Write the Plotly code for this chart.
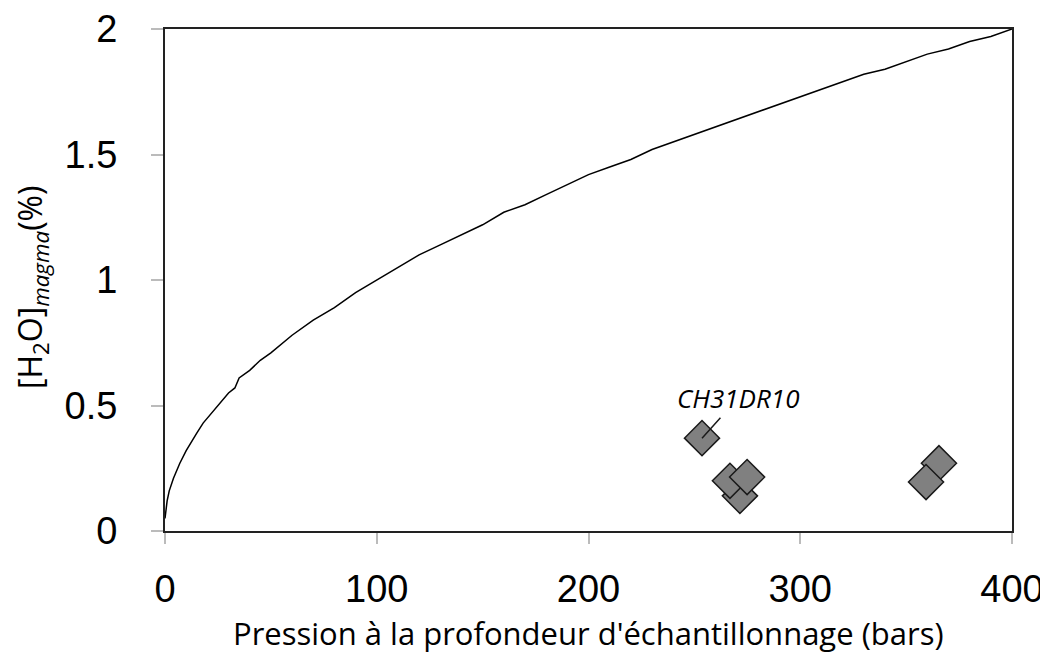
import plotly.graph_objects as go

# solubility curve
pressure = [0, 1, 2, 3, 4, 5, 7, 10, 12, 15, 18, 20, 25, 30, 33, 35, 40, 45, 50,
            60, 70, 80, 90, 100, 110, 120, 130, 140, 150, 160, 170, 180, 190, 200,
            210, 220, 230, 240, 250, 260, 270, 280, 290, 300, 310, 320, 330, 340,
            350, 360, 370, 380, 390, 400]
h2o_curve = [0.05, 0.12, 0.16, 0.19, 0.21, 0.23, 0.27, 0.32, 0.35, 0.39, 0.43, 0.45,
             0.50, 0.55, 0.57, 0.61, 0.64, 0.68, 0.71, 0.78, 0.84, 0.89, 0.95, 1.00,
             1.05, 1.10, 1.14, 1.18, 1.22, 1.27, 1.30, 1.34, 1.38, 1.42, 1.45, 1.48,
             1.52, 1.55, 1.58, 1.61, 1.64, 1.67, 1.70, 1.73, 1.76, 1.79, 1.82, 1.84,
             1.87, 1.90, 1.92, 1.95, 1.97, 2.00]

# samples (drawing order matters for overlap)
sample_p = [253.6, 271.5, 266.8, 274.9, 365.5, 359.4]
sample_h2o = [0.37, 0.14, 0.20, 0.215, 0.27, 0.195]

label = 'CH31DR10'
label_p, label_h2o = 253.6, 0.37

fig = go.Figure()

fig.add_trace(go.Scatter(
    x=pressure, y=h2o_curve, mode='lines',
    line=dict(color='black', width=1.5),
    showlegend=False))

fig.add_trace(go.Scatter(
    x=sample_p, y=sample_h2o, mode='markers',
    marker=dict(symbol='diamond', size=27, color='#808080',
                line=dict(color='#1a1a1a', width=1.5)),
    showlegend=False))

fig.add_annotation(
    x=label_p, y=label_h2o, text='<i>' + label + '</i>',
    showarrow=True, arrowhead=0, arrowwidth=1.5, arrowcolor='#1a1a1a',
    ax=36, ay=-40, font=dict(family='Open Sans', size=26, color='black'))

# axis titles as annotations so they sit exactly where the reference has them
fig.add_annotation(
    xref='paper', yref='paper', x=0.5, y=-0.204, yanchor='middle',
    text="Pression à la profondeur d'échantillonnage (bars)", showarrow=False,
    font=dict(family='Open Sans', size=31, color='black'))
fig.add_annotation(
    xref='paper', yref='paper', x=-0.157, y=0.486, textangle=-90,
    xanchor='center', yanchor='middle', showarrow=False,
    text='[H<sub>2</sub>O]<sub><i>magma</i></sub>(%)',
    font=dict(family='Open Sans', size=32, color='black'))

# page body has an 8px margin, so the figure is a bit smaller than the window
fig.update_layout(
    width=1040, height=645,
    margin=dict(l=157, r=36, t=21, b=122),
    plot_bgcolor='white', paper_bgcolor='white',
    xaxis=dict(
        range=[0, 400], tickvals=[0, 100, 200, 300, 400],
        showgrid=False, zeroline=False, automargin=False,
        showline=True, mirror=True, linecolor='#222', linewidth=2,
        ticks='outside', ticklen=11, tickcolor='#bbbbbb', tickwidth=1.5,
        ticklabelstandoff=12,
        tickfont=dict(family='Liberation Sans', size=38, color='black')),
    yaxis=dict(
        range=[0, 2], tickvals=[0, 0.5, 1, 1.5, 2],
        showgrid=False, zeroline=False, automargin=False,
        showline=True, mirror=True, linecolor='#222', linewidth=2,
        ticks='outside', ticklen=12, tickcolor='#bbbbbb', tickwidth=1.5,
        ticklabelstandoff=26,
        tickfont=dict(family='Liberation Sans', size=38, color='black')),
)

fig.write_html("out.html")
